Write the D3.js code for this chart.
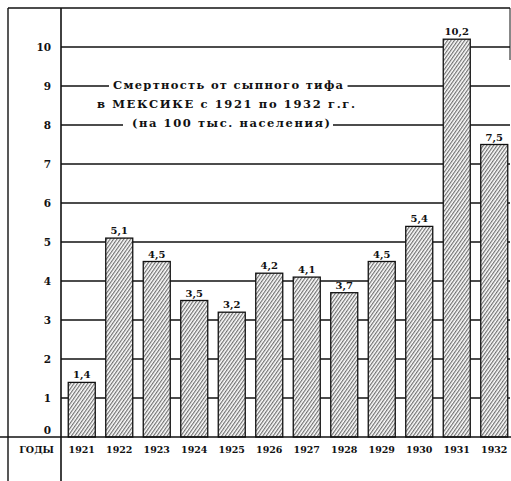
<!DOCTYPE html>
<html>
<head>
<meta charset="utf-8">
<script src="https://cdn.jsdelivr.net/npm/d3@7"></script>
<style>
  html, body { margin: 0; padding: 0; background: #fff; }
  svg { display: block; }
  text { font-family: "DejaVu Serif", "Liberation Serif", serif; fill: #111; }
</style>
</head>
<body>
<script>
// Typhus mortality in Mexico, 1921–1932, per 100 000 inhabitants
const years = ["1921", "1922", "1923", "1924", "1925", "1926", "1927", "1928", "1929", "1930", "1931", "1932"];
const rates = [1.4, 5.1, 4.5, 3.5, 3.2, 4.2, 4.1, 3.7, 4.5, 5.4, 10.2, 7.5];
const yTicks = [0, 1, 2, 3, 4, 5, 6, 7, 8, 9, 10];
const axisCaption = "ГОДЫ";
const titleLines = [
  "Смертность от сыпного тифа",
  "в МЕКСИКЕ с 1921 по 1932 г.г.",
  "(на 100 тыс. населения)"
];

const W = 511, H = 481;
const frameLeft = 8, frameTop = 8, frameRight = 510;
const axisX = 61, baseY = 437;

const svg = d3.select("body").append("svg")
  .attr("width", W).attr("height", H);

svg.append("rect").attr("width", W).attr("height", H).attr("fill", "#fff");

// fine diagonal hatching used inside every bar
const defs = svg.append("defs");
defs.append("pattern")
  .attr("id", "hatch")
  .attr("patternUnits", "userSpaceOnUse")
  .attr("width", 2.8).attr("height", 10)
  .attr("patternTransform", "rotate(35)")
  .append("line")
  .attr("x1", 0.7).attr("x2", 0.7)
  .attr("y1", 0).attr("y2", 10)
  .attr("stroke", "#111")
  .attr("stroke-width", 0.75);

const x = d3.scaleBand()
  .domain(years)
  .range([63, 513])
  .paddingInner(0.28)
  .paddingOuter(0.14);

const y = d3.scaleLinear()
  .domain([0, 10])
  .range([baseY, 47]);

// horizontal rulings at every unit
svg.append("g").selectAll("line")
  .data(yTicks.filter(d => d > 0))
  .join("line")
  .attr("x1", axisX).attr("x2", frameRight)
  .attr("y1", d => y(d)).attr("y2", d => y(d))
  .attr("stroke", "#111").attr("stroke-width", 1.4);

// title block, set over the rulings
const titleCenter = [228, 226, 231];
const titleWidth = [230, 258, 198];
const titleY = [89, 108, 127];
const titlePad = [[4, 4], [4, 4], [9, 3]];
const titleG = svg.append("g");
titleLines.forEach((line, i) => {
  const t = titleG.append("text")
    .attr("x", titleCenter[i])
    .attr("y", titleY[i])
    .attr("text-anchor", "middle")
    .attr("font-size", 11.5)
    .attr("font-weight", i === 1 ? "bold" : "600")
    .attr("textLength", titleWidth[i])
    .attr("lengthAdjust", "spacing")
    .text(line);
  const bb = t.node().getBBox();
  titleG.insert("rect", "text")
    .attr("x", bb.x - titlePad[i][0]).attr("y", bb.y)
    .attr("width", bb.width + titlePad[i][0] + titlePad[i][1]).attr("height", bb.height)
    .attr("fill", "#fff");
});

// bars
const bars = svg.append("g");
bars.selectAll("rect.bg")
  .data(rates)
  .join("rect")
  .attr("class", "bg")
  .attr("x", (d, i) => x(years[i]))
  .attr("y", d => y(d))
  .attr("width", x.bandwidth())
  .attr("height", d => baseY - y(d))
  .attr("fill", "#fff");
bars.selectAll("rect.hatch")
  .data(rates)
  .join("rect")
  .attr("class", "hatch")
  .attr("x", (d, i) => x(years[i]))
  .attr("y", d => y(d))
  .attr("width", x.bandwidth())
  .attr("height", d => baseY - y(d))
  .attr("fill", "url(#hatch)")
  .attr("stroke", "#111")
  .attr("stroke-width", 1.3);

// value labels above bars, decimal comma
const fmt = d3.format(".1f");
bars.selectAll("text")
  .data(rates)
  .join("text")
  .attr("x", (d, i) => x(years[i]) + x.bandwidth() / 2)
  .attr("y", d => y(d) - 4)
  .attr("text-anchor", "middle")
  .attr("font-size", 10)
  .attr("font-weight", "bold")
  .text(d => fmt(d).replace(".", ","));

// y-axis numbers; the zero sits just above the baseline
svg.append("g").selectAll("text")
  .data(yTicks)
  .join("text")
  .attr("x", 51)
  .attr("y", d => d === 0 ? baseY - 3 : y(d) + 4)
  .attr("text-anchor", "end")
  .attr("font-size", 10.5)
  .attr("font-weight", "bold")
  .text(d => String(d));

// year labels under the baseline
svg.append("g").selectAll("text")
  .data(years)
  .join("text")
  .attr("x", d => x(d) + x.bandwidth() / 2)
  .attr("y", 453)
  .attr("text-anchor", "middle")
  .attr("font-size", 9.5)
  .attr("font-weight", "bold")
  .text(d => d);

svg.append("text")
  .attr("x", 54)
  .attr("y", 453)
  .attr("text-anchor", "end")
  .attr("font-size", 9.5)
  .attr("font-weight", "bold")
  .text(axisCaption);

// frame and axes
const frame = svg.append("g").attr("stroke", "#111").attr("fill", "none");
frame.append("line").attr("x1", frameLeft).attr("x2", frameRight)
  .attr("y1", frameTop).attr("y2", frameTop).attr("stroke-width", 1.4);
frame.append("line").attr("x1", frameLeft).attr("x2", frameLeft)
  .attr("y1", frameTop).attr("y2", H).attr("stroke-width", 1.4);
frame.append("line").attr("x1", frameRight).attr("x2", frameRight)
  .attr("y1", frameTop).attr("y2", 60).attr("stroke-width", 1);
frame.append("line").attr("x1", axisX).attr("x2", axisX)
  .attr("y1", frameTop).attr("y2", H).attr("stroke-width", 1.6);
frame.append("line").attr("x1", 0).attr("x2", W)
  .attr("y1", baseY).attr("y2", baseY).attr("stroke-width", 1.6);
</script>
</body>
</html>
